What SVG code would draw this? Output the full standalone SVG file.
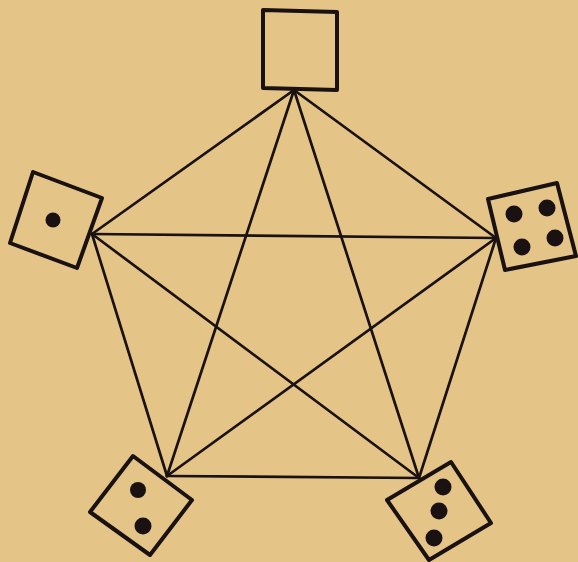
<svg xmlns="http://www.w3.org/2000/svg" width="578" height="562" viewBox="0 0 578 562">
<style>
.bg{fill:#E4C487}
.edge{stroke:#1a1212;stroke-width:2.7;fill:none;stroke-linecap:round}
.die{fill:none;stroke:#1a1212;stroke-width:4;stroke-linejoin:round}
.pip{fill:#1a1212}
</style>
<rect class="bg" x="0" y="0" width="578" height="562"/>
<g id="connectors">
<line class="edge" x1="294" y1="90" x2="92" y2="234"/>
<line class="edge" x1="294" y1="90" x2="496" y2="238"/>
<line class="edge" x1="294" y1="90" x2="167" y2="476"/>
<line class="edge" x1="294" y1="90" x2="419" y2="478"/>
<line class="edge" x1="92" y1="234" x2="496" y2="238"/>
<line class="edge" x1="92" y1="234" x2="167" y2="476"/>
<line class="edge" x1="92" y1="234" x2="419" y2="478"/>
<line class="edge" x1="496" y1="238" x2="167" y2="476"/>
<line class="edge" x1="496" y1="238" x2="419" y2="478"/>
<line class="edge" x1="167" y1="476" x2="419" y2="478"/>
</g>
<g id="die-top">
<polygon class="die" points="263,10 337,12 337,90 263,88"/>
</g>
<g id="die-left">
<polygon class="die" points="33,172 102,198 77,268 10,243"/>
<circle class="pip" cx="53" cy="220" r="7.5"/>
</g>
<g id="die-right">
<polygon class="die" points="488,199 557,183 576,256 505,270"/>
<circle class="pip" cx="514" cy="214" r="8.5"/>
<circle class="pip" cx="547" cy="208" r="8.5"/>
<circle class="pip" cx="522" cy="247" r="8.5"/>
<circle class="pip" cx="555" cy="238" r="8.5"/>
</g>
<g id="die-bottom-left">
<polygon class="die" points="133,456 192,500 150,555 90,512"/>
<circle class="pip" cx="138" cy="490" r="8"/>
<circle class="pip" cx="143" cy="526" r="8.5"/>
</g>
<g id="die-bottom-right">
<polygon class="die" points="451,462 491,523 429,560 387,500"/>
<circle class="pip" cx="443" cy="487" r="8.5"/>
<circle class="pip" cx="439" cy="511" r="8.5"/>
<circle class="pip" cx="434" cy="538" r="8.5"/>
</g>
</svg>
